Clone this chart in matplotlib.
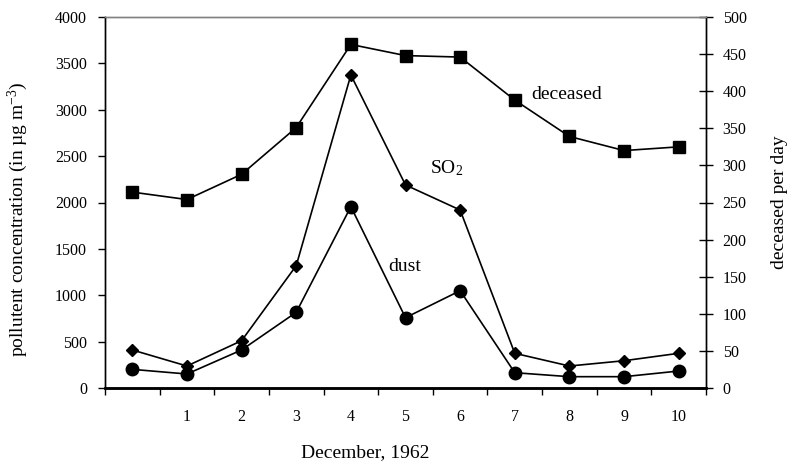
import matplotlib
matplotlib.use("Agg")
import matplotlib.pyplot as plt
import numpy as np

plt.rcParams['font.family'] = ['Liberation Serif', 'DejaVu Serif']
plt.rcParams['mathtext.default'] = 'regular'

categories = ['', '1', '2', '3', '4', '5', '6', '7', '8', '9', '10']
so2 = [410, 237, 510, 1319, 3375, 2189, 1919, 374, 237, 294, 374]
dust = [201, 151, 410, 816, 1955, 758, 1049, 165, 122, 122, 183]
deceased = [264, 254, 288, 351, 463, 448, 446, 388, 339, 320, 325]
left_ticks = [0, 500, 1000, 1500, 2000, 2500, 3000, 3500, 4000]
right_ticks = [0, 50, 100, 150, 200, 250, 300, 350, 400, 450, 500]

W, H = 788, 466
fig = plt.figure(figsize=(W / 100, H / 100), dpi=100)
L, R, T, B = 105, 706, 17, 388
ax = fig.add_axes([L / W, (H - B) / H, (R - L) / W, (B - T) / H])
ax2 = ax.twinx()

x = np.arange(len(categories))
ax.plot(x, so2, color='black', lw=1.2, marker='D', ms=6.5, zorder=3)
ax.plot(x, dust, color='black', lw=1.2, marker='o', ms=9, zorder=3)
ax2.plot(x, deceased, color='black', lw=1.2, marker='s', ms=8, zorder=3)

ax.set_xlim(-0.5, len(categories) - 0.5)
ax.set_ylim(0, 4000)
ax2.set_ylim(0, 500)

# x: tick marks between categories, labels centred on categories
ax.set_xticks(np.arange(len(categories) + 1) - 0.5)
ax.set_xticklabels([])
ax.set_xticks(x, minor=True)
ax.set_xticklabels(categories, minor=True)
ax.tick_params(axis='x', which='major', direction='out', length=5, width=1, color='black')
ax.tick_params(axis='x', which='minor', length=0, pad=15, labelsize=11.5)

ax.set_yticks(left_ticks)
ax.set_yticklabels([str(v) for v in left_ticks])
ax.tick_params(axis='y', direction='out', length=5, width=1, pad=8, labelsize=11.5)

ax2.set_yticks(right_ticks)
ax2.set_yticklabels([str(v) for v in right_ticks])
ax2.tick_params(axis='y', direction='inout', length=10, width=1, pad=7, labelsize=11.5)

for a in (ax, ax2):
    a.spines['top'].set_color('#808080')
    a.spines['top'].set_linewidth(1.0)
    a.spines['left'].set_linewidth(1.0)
    a.spines['right'].set_linewidth(1.0)
    a.spines['bottom'].set_linewidth(1.8)
    a.patch.set_visible(False)

fs = 14
fig.text(18 / W, 1 - 219 / H, 'pollutent concentration (in µg m$^{-3}$)',
         rotation=90, ha='center', va='center', fontsize=fs)
fig.text(780 / W, 1 - 202 / H, 'deceased per day',
         rotation=90, ha='center', va='center', fontsize=fs)
fig.text(365 / W, 1 - 453 / H, 'December, 1962', ha='center', va='center', fontsize=fs)

ax.text(7.95, 3160, 'deceased', ha='center', va='center', fontsize=fs)
ax.text(5.76, 2372, 'SO$_2$', ha='center', va='center', fontsize=fs)
ax.text(4.99, 1305, 'dust', ha='center', va='center', fontsize=fs)

fig.savefig('out.png', dpi=100)
